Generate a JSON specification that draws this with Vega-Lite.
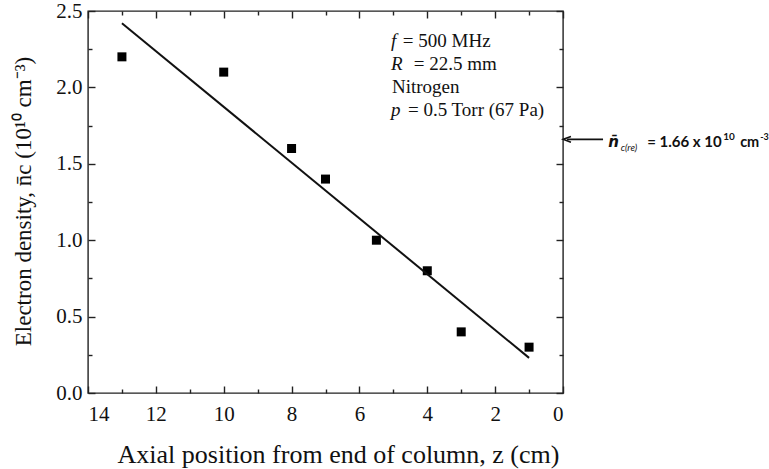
{
  "$schema": "https://vega.github.io/schema/vega-lite/v6.json",
  "width": 475,
  "height": 382,
  "autosize": {"type": "none"},
  "padding": {"left": 88, "top": 11, "right": 206, "bottom": 76},
  "background": "white",
  "config": {
    "view": {"stroke": "#222", "strokeWidth": 1.4},
    "axis": {
      "domain": false,
      "grid": false,
      "tickColor": "#222",
      "tickWidth": 1.4,
      "labelFont": "Liberation Serif",
      "labelFontSize": 21,
      "labelColor": "#111",
      "titleFont": "Liberation Serif",
      "titleFontWeight": "normal",
      "titleColor": "#111"
    }
  },
  "datasets": {
    "measured": [
      {"z": 13, "n": 2.2},
      {"z": 10, "n": 2.1},
      {"z": 8, "n": 1.6},
      {"z": 7, "n": 1.4},
      {"z": 5.5, "n": 1.0},
      {"z": 4, "n": 0.8},
      {"z": 3, "n": 0.4},
      {"z": 1, "n": 0.3}
    ],
    "fit": [
      {"z": 13, "n": 2.42},
      {"z": 1, "n": 0.23}
    ],
    "symbols": [
      {"z": 5.07, "n": 2.264, "t": "f"},
      {"z": 5.07, "n": 2.114, "t": "R"},
      {"z": 5.07, "n": 1.813, "t": "p"}
    ],
    "conditions": [
      {"z": 4.72, "n": 2.264, "t": "= 500 MHz"},
      {"z": 4.4, "n": 2.114, "t": "= 22.5 mm"},
      {"z": 5.04, "n": 1.963, "t": "Nitrogen"},
      {"z": 4.57, "n": 1.813, "t": "= 0.5 Torr (67 Pa)"}
    ],
    "arrow": [
      {"z": -0.12, "n": 1.66},
      {"z": -1.18, "n": 1.66}
    ],
    "recombination": [
      {"z": -1.33, "n": 1.66, "value": 1.66}
    ]
  },
  "resolve": {"axis": {"x": "independent", "y": "independent"}},
  "layer": [
    {
      "data": {"name": "measured"},
      "mark": {"type": "point", "shape": "square", "filled": true, "color": "#000", "size": 81, "opacity": 1},
      "encoding": {
        "x": {
          "field": "z", "type": "quantitative",
          "scale": {"domain": [0, 14], "reverse": true, "nice": false, "zero": false},
          "axis": {"orient": "bottom", "values": [0, 1, 2, 3, 4, 5, 6, 7, 8, 9, 10, 11, 12, 13, 14],
                   "tickSize": {"condition": {"test": "datum.value % 2 === 0", "value": -7}, "value": -4},
                   "labelExpr": "datum.value % 2 === 0 ? datum.label : ''",
                   "labelPadding": 17,
                   "title": "Axial position from end of column, z (cm)", "titleFontSize": 26,
                   "titleAnchor": null, "titleAlign": "center", "titleBaseline": "alphabetic", "titleX": 250, "titleY": 69}
        },
        "y": {
          "field": "n", "type": "quantitative",
          "scale": {"domain": [0, 2.5], "nice": false, "zero": false},
          "axis": {"orient": "left", "values": [0, 0.25, 0.5, 0.75, 1, 1.25, 1.5, 1.75, 2, 2.25, 2.5],
                   "tickSize": {"condition": {"test": "round(datum.value * 4) % 2 === 0", "value": -7}, "value": -4},
                   "labelExpr": "round(datum.value * 4) % 2 === 0 ? format(datum.value, '.1f') : ''",
                   "labelPadding": 13,
                   "title": "Electron density, n̄c (10¹⁰ cm⁻³)", "titleFontSize": 23,
                   "titleAnchor": null, "titleAngle": -90, "titleAlign": "center", "titleBaseline": "alphabetic", "titleX": -58, "titleY": 190}
        }
      }
    },
    {
      "data": {"name": "fit"},
      "mark": {"type": "line", "color": "#111", "strokeWidth": 2},
      "encoding": {
        "x": {"field": "z", "type": "quantitative",
              "axis": {"orient": "top", "values": [0, 1, 2, 3, 4, 5, 6, 7, 8, 9, 10, 11, 12, 13, 14],
                       "tickSize": {"condition": {"test": "datum.value % 2 === 0", "value": -7}, "value": -4},
                       "labels": false, "title": null}},
        "y": {"field": "n", "type": "quantitative",
              "axis": {"orient": "right", "values": [0, 0.25, 0.5, 0.75, 1, 1.25, 1.5, 1.75, 2, 2.25, 2.5],
                       "tickSize": {"condition": {"test": "round(datum.value * 4) % 2 === 0", "value": -7}, "value": -4},
                       "labels": false, "title": null}}
      }
    },
    {
      "data": {"name": "symbols"},
      "mark": {"type": "text", "font": "Liberation Serif", "fontStyle": "italic", "fontSize": 19, "align": "left", "baseline": "alphabetic", "color": "#111"},
      "encoding": {
        "x": {"field": "z", "type": "quantitative", "axis": null},
        "y": {"field": "n", "type": "quantitative", "axis": null},
        "text": {"field": "t"}
      }
    },
    {
      "data": {"name": "conditions"},
      "mark": {"type": "text", "font": "Liberation Serif", "fontSize": 19, "align": "left", "baseline": "alphabetic", "color": "#111"},
      "encoding": {
        "x": {"field": "z", "type": "quantitative", "axis": null},
        "y": {"field": "n", "type": "quantitative", "axis": null},
        "text": {"field": "t"}
      }
    },
    {
      "data": {"name": "arrow"},
      "mark": {"type": "line", "color": "#111", "strokeWidth": 1.6},
      "encoding": {
        "x": {"field": "z", "type": "quantitative", "axis": null},
        "y": {"field": "n", "type": "quantitative", "axis": null}
      }
    },
    {
      "data": {"name": "arrow"},
      "transform": [{"filter": "datum.z > -0.5"}],
      "mark": {"type": "point", "shape": "M1,-0.75L-1,0L1,0.75", "filled": false, "color": "#111", "strokeWidth": 1.6, "size": 60, "opacity": 1, "dx": 4},
      "encoding": {
        "x": {"field": "z", "type": "quantitative", "axis": null},
        "y": {"field": "n", "type": "quantitative", "axis": null}
      }
    },
    {
      "data": {"name": "recombination"},
      "transform": [{"calculate": "'= ' + format(datum.value, '.2f') + ' x 10'", "as": "label"}],
      "layer": [
        {
          "mark": {"type": "text", "font": "DejaVu Sans", "fontWeight": "bold", "fontStyle": "italic", "fontSize": 15, "align": "left", "baseline": "alphabetic", "dy": 7.5, "color": "#111"},
          "encoding": {"text": {"value": "n̄"}}
        },
        {
          "mark": {"type": "text", "font": "Lato", "fontStyle": "italic", "fontSize": 9.5, "align": "left", "baseline": "alphabetic", "dx": 12.5, "dy": 11.5, "color": "#111"},
          "encoding": {"text": {"value": "c(re)"}}
        },
        {
          "mark": {"type": "text", "font": "Lato", "fontWeight": "bold", "fontSize": 15, "align": "left", "baseline": "alphabetic", "dx": 39, "dy": 7.5, "color": "#111"},
          "encoding": {"text": {"field": "label"}}
        },
        {
          "mark": {"type": "text", "font": "Lato", "fontWeight": "bold", "fontSize": 10, "align": "left", "baseline": "alphabetic", "dx": 115, "dy": 0.5, "color": "#111"},
          "encoding": {"text": {"value": "10"}}
        },
        {
          "mark": {"type": "text", "font": "Lato", "fontWeight": "bold", "fontSize": 14.5, "align": "left", "baseline": "alphabetic", "dx": 132, "dy": 7.5, "color": "#111"},
          "encoding": {"text": {"value": "cm"}}
        },
        {
          "mark": {"type": "text", "font": "Lato", "fontWeight": "bold", "fontSize": 9, "align": "left", "baseline": "alphabetic", "dx": 152, "dy": 0.5, "color": "#111"},
          "encoding": {"text": {"value": "-3"}}
        }
      ],
      "encoding": {
        "x": {"field": "z", "type": "quantitative", "axis": null},
        "y": {"field": "n", "type": "quantitative", "axis": null}
      }
    }
  ]
}
